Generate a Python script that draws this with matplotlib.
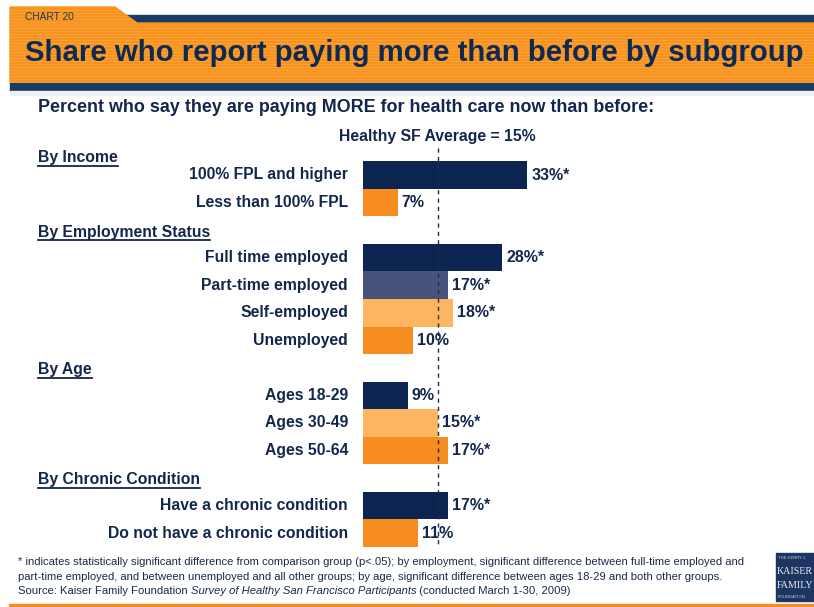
import matplotlib
matplotlib.use("Agg")
import matplotlib.pyplot as plt
from matplotlib.patches import Rectangle, Polygon
from matplotlib.lines import Line2D
from matplotlib.transforms import IdentityTransform

plt.rcParams['font.family'] = ['Liberation Sans', 'DejaVu Sans']

# data
groups = ["By Income", "By Employment Status", "By Age", "By Chronic Condition"]
income_labels = ["100% FPL and higher", "Less than 100% FPL"]
income_values = [33, 7]
income_sig = [True, False]
employment_labels = ["Full time employed", "Part-time employed", "Self-employed", "Unemployed"]
employment_values = [28, 17, 18, 10]
employment_sig = [True, True, True, False]
age_labels = ["Ages 18-29", "Ages 30-49", "Ages 50-64"]
age_values = [9, 15, 17]
age_sig = [False, True, True]
chronic_labels = ["Have a chronic condition", "Do not have a chronic condition"]
chronic_values = [17, 11]
chronic_sig = [True, False]
average = 15

NAVY = '#0B2450'
SLATE = '#47537A'
LIGHT = '#FDB562'
ORANGE = '#F68B1F'
TEXT = '#13264B'

income_colors = [NAVY, ORANGE]
employment_colors = [NAVY, SLATE, LIGHT, ORANGE]
age_colors = [NAVY, LIGHT, ORANGE]
chronic_colors = [NAVY, ORANGE]

group_data = [
    (income_labels, income_values, income_sig, income_colors),
    (employment_labels, employment_values, employment_sig, employment_colors),
    (age_labels, age_values, age_sig, age_colors),
    (chronic_labels, chronic_values, chronic_sig, chronic_colors),
]

W, H = 814, 607
fig = plt.figure(figsize=(W / 100, H / 100), dpi=100)


def fx(px):
    return px / W


def fy(py):
    return 1 - py / H


# banner
fig.patches.append(Rectangle((fx(115), fy(23)), fx(W - 115), 8 / H, color='#173A66',
                             transform=fig.transFigure))
tab = [(10, 7), (115, 7), (137, 23), (W, 23), (W, 83), (10, 83)]
fig.patches.append(Polygon([(fx(x), fy(y)) for x, y in tab], closed=True, color='#F7941F',
                           transform=fig.transFigure))
# faint stripes in the orange
for yy in range(10, 83, 3):
    x_end = W if yy > 23 else 115 + (yy - 7) * 22 / 16
    fig.add_artist(Line2D([fx(10), fx(x_end)], [fy(yy), fy(yy)], color='#FAA33E', lw=0.6,
                          transform=fig.transFigure))
fig.patches.append(Rectangle((fx(10), fy(91)), fx(W - 10), 8 / H, color='#173A66',
                             transform=fig.transFigure))
fig.patches.append(Rectangle((fx(10), fy(95)), fx(W - 10), 4 / H, color='#EFEFEF',
                             transform=fig.transFigure))
fig.text(fx(25), fy(17), "CHART 20", fontsize=7.3, color='#2A3550', va='center')
fig.text(fx(25), fy(53), "Share who report paying more than before by subgroup",
         fontsize=21.2, fontweight='bold', color='#0E2A52', va='center')

fig.text(fx(38), fy(107), "Percent who say they are paying MORE for health care now than before:",
         fontsize=12.9, fontweight='bold', color=TEXT, va='center')

# chart area: full-figure axes, x in percent, y in rows
PX_PER_PCT = 4.975
ROW_PX = 27.55
BAR_LEFT_PX = 363
FIRST_ROW_PX = 175
ax = fig.add_axes([0, 0, 1, 1])
ax.set_xlim(-BAR_LEFT_PX / PX_PER_PCT, (W - BAR_LEFT_PX) / PX_PER_PCT)
ax.set_ylim((H - FIRST_ROW_PX) / ROW_PX, -FIRST_ROW_PX / ROW_PX)
ax.axis('off')

headers = []
y = 0
first_y = 0
last_y = 0
for gi, (name, (labels, values, sig, colors)) in enumerate(zip(groups, group_data)):
    hy = y - (0.62 if gi == 0 else 0.93)
    headers.append(ax.text(-65.3, hy, name, fontsize=11.3, fontweight='bold', color=TEXT,
                           va='center', ha='left'))
    ys = [y + i for i in range(len(values))]
    ax.barh(ys, values, height=1.0, color=colors, left=0)
    for yi, lab, v, s in zip(ys, labels, values, sig):
        ax.text(-3.0, yi, lab, fontsize=11.3, fontweight='bold', color=TEXT,
                ha='right', va='center')
        ax.text(v + 0.8, yi, f"{v}%" + ("*" if s else ""), fontsize=11.5, fontweight='bold',
                color=TEXT, ha='left', va='center')
    last_y = ys[-1]
    y += len(values) + 1

ax.vlines(average, first_y - 0.98, last_y + 0.5, colors='#1F2D4A', linestyles=(0, (3, 3)), lw=1)
ax.text(average, first_y - 1.38, f"Healthy SF Average = {average}%", fontsize=11.3,
        fontweight='bold', color=TEXT, ha='center', va='center')

# underline the group headers
fig.canvas.draw()
for t in headers:
    bb = t.get_window_extent()
    fig.add_artist(Line2D([bb.x0, bb.x1], [bb.y0 - 0.5, bb.y0 - 0.5], color=TEXT, lw=1.3,
                          transform=IdentityTransform()))

# footnotes
FOOT = dict(fontsize=8.1, color='#1A2A48', va='center')
fig.text(fx(18), fy(562), "* indicates statistically significant difference from comparison group (p<.05); "
         "by employment, significant difference between full-time employed and", **FOOT)
fig.text(fx(18), fy(577), "part-time employed, and between unemployed and all other groups; by age, "
         "significant difference between ages 18-29 and both other groups.", **FOOT)
r = fig.canvas.get_renderer()
src_parts = [("Source: Kaiser Family Foundation ", 'normal'),
             ("Survey of Healthy San Francisco Participants", 'italic'),
             (" (conducted March 1-30, 2009)", 'normal')]
x_px = 18
for txt, style in src_parts:
    t = fig.text(fx(x_px), fy(591), txt, style=style, **FOOT)
    x_px += t.get_window_extent(renderer=r).width
fig.patches.append(Rectangle((fx(9), 0), fx(W - 9), 3 / H, color='#F68B1F', transform=fig.transFigure))

# logo block
fig.patches.append(Rectangle((fx(776), fy(601)), fx(W - 776), 48 / H, color='#1C3561',
                             transform=fig.transFigure))
fig.text(fx(778), fy(558), "THE HENRY J.", fontsize=3, color='#C8D0E0', va='center')
fig.text(fx(777), fy(571), "KAISER", fontsize=7.2, family='Liberation Serif', color='#E8ECF4', va='center')
fig.text(fx(777), fy(585), "FAMILY", fontsize=7.2, family='Liberation Serif', color='#E8ECF4', va='center')
fig.text(fx(778), fy(597), "FOUNDATION", fontsize=3, color='#C8D0E0', va='center')

fig.savefig("out.png", dpi=100)
